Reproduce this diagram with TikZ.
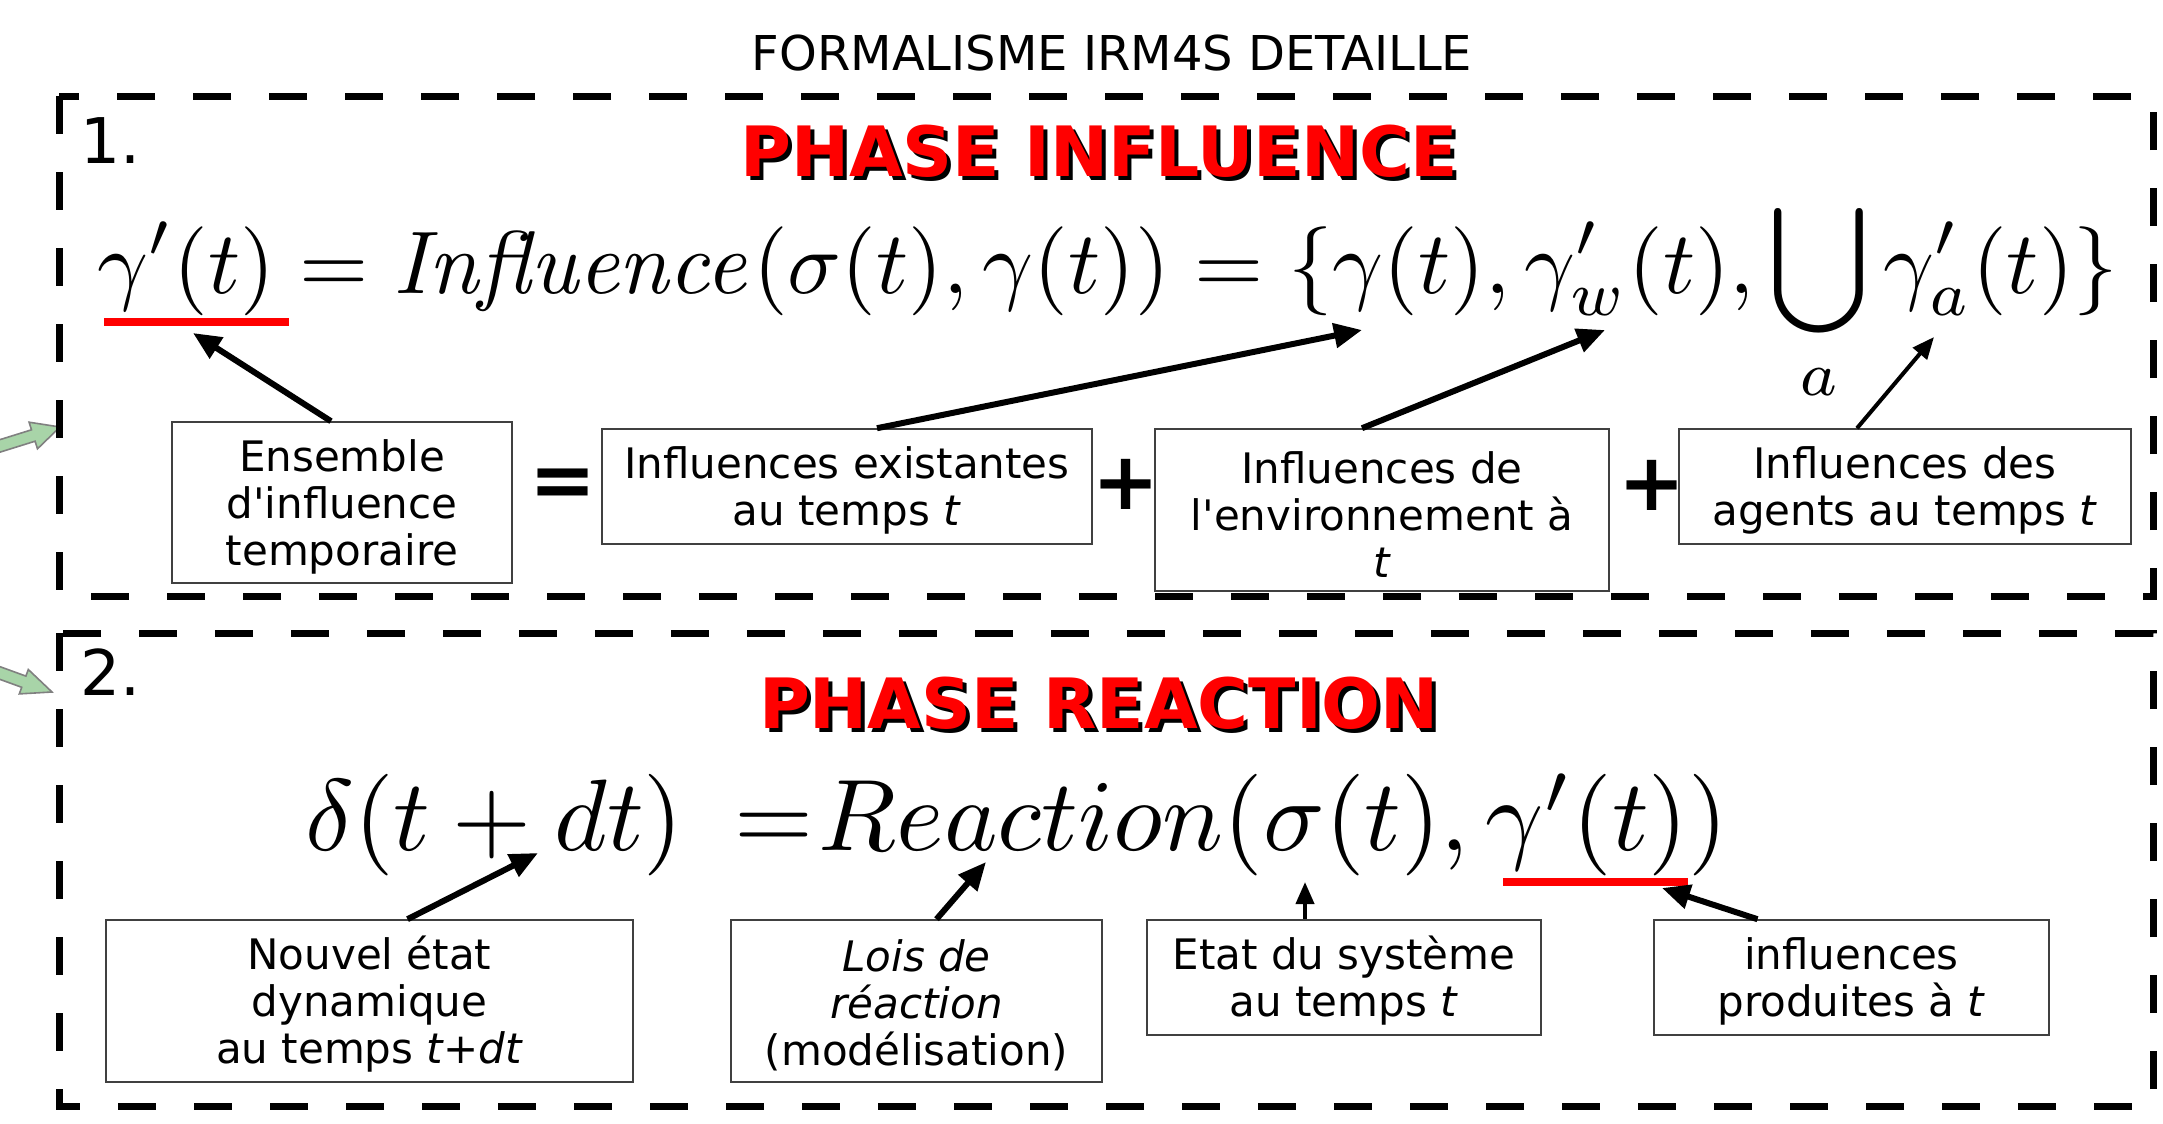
\documentclass[tikz,border=0pt]{standalone}
\usepackage[no-math]{fontspec}
\setmainfont{DejaVu Sans}
\usetikzlibrary{arrows.meta}
\newcommand{\toplift}{\rule{0pt}{20pt}}
\begin{document}
\begin{tikzpicture}[x=0.5pt,y=-0.5pt,
  phasebox/.style={draw=black, line width=3.5pt, dash pattern=on 19pt off 19pt},
  labelbox/.style={draw=black!75, line width=0.8pt, align=center, inner sep=0pt, font=\fontsize{21}{23.5}\selectfont},
  ptr/.style={line width=3pt, -{Triangle[length=14pt,width=12pt]}},
  thinptr/.style={line width=2pt, -{Triangle[length=11pt,width=9pt]}},
  phasetitle/.style={font=\fontsize{34.7}{40}\selectfont\bfseries, inner sep=0pt},
  optext/.style={font=\fontsize{40}{40}\selectfont\bfseries, inner sep=0pt},
  numtext/.style={font=\fontsize{31.5}{34}\selectfont, inner sep=0pt, anchor=base west},
  mathline/.style={anchor=base west, inner sep=0pt, font=\normalsize, transform shape},
  redline/.style={draw=red, line width=4pt},
  greenarrow/.style={fill={rgb,255:red,168;green,212;blue,168}, draw=gray, line width=0.8pt, line join=miter}
]
\useasboundingbox (0,0) rectangle (2163,1124);

% title
\node[font=\fontsize{24}{28}\selectfont, anchor=base, inner sep=0pt] (title) at (1112,70) {FORMALISME IRM4S DETAILLE};

% green arrows entering from the left
\draw[greenarrow] (-8.2,454.7) -- (35.1,441.2) -- (37.5,448.8) -- (60,427) -- (29.1,422.2) -- (31.5,429.8) -- (-11.8,443.3) -- cycle;
\draw[greenarrow] (-12.1,675) -- (21.7,687.3) -- (19.3,693.9) -- (52,692) -- (28.3,669.5) -- (25.9,676.1) -- (-7.9,663.8) -- cycle;

% ---------------- phase 1 ----------------
\draw[phasebox] (59,96) rectangle (2153,596);
\node[numtext] (n1) at (80,163) {1.};
\node[phasetitle, text=black] (t1s) at (1103,155) {PHASE INFLUENCE};
\node[phasetitle, text=red] (t1) at (1099,151.5) {PHASE INFLUENCE};

\node[mathline, scale=4.45] (eq1) at (96,293)
  {$\displaystyle \gamma'(t) = \mathit{Influence}(\sigma(t),\gamma(t)) = \{\gamma(t),\gamma'_w(t),\bigcup_a \gamma'_a(t)\}$};
\draw[redline] (104,322) -- (289,322);

\coordinate (p1) at (193,333);
\coordinate (p2) at (1362,330);
\coordinate (p3) at (1605,330);
\coordinate (p4) at (1934,337);

\node[labelbox, minimum width=170pt, minimum height=80.5pt] (ens) at (342,502.5) {\toplift Ensemble\\d\textquotesingle influence\\temporaire};
\node[labelbox, minimum width=245pt, minimum height=57.5pt] (exi) at (847,486.5) {\toplift Influences existantes\\au temps \textit{t}};
\node[labelbox, minimum width=227pt, minimum height=81pt] (env) at (1382,510) {\toplift Influences de\\l\textquotesingle environnement à\\\textit{t}};
\node[labelbox, minimum width=226pt, minimum height=57.5pt] (agt) at (1905,486.5) {\toplift Influences des\\agents au temps \textit{t}};

\node[optext] (eqs) at (563,488) {=};
\node[optext] (plus1) at (1126,484) {+};
\node[optext] (plus2) at (1652,485) {+};

\draw[ptr] ([xshift=-5.5pt]ens.north) -- (p1);
\draw[ptr] ([xshift=15pt]exi.north) -- (p2);
\draw[ptr] ([xshift=-10pt]env.north) -- (p3);
\draw[thinptr] ([xshift=-24pt]agt.north) -- (p4);

% ---------------- phase 2 ----------------
\draw[phasebox] (59,633) rectangle (2153,1106);
\node[numtext] (n2) at (80,695) {2.};
\node[phasetitle, text=black] (t2s) at (1103,707) {PHASE REACTION};
\node[phasetitle, text=red] (t2) at (1099,703.5) {PHASE REACTION};

\node[mathline, scale=5.08] (eq2) at (303,850)
  {$\delta(t + dt)\mskip 9mu{=}\mskip 1mu Reaction(\sigma(t),\gamma'(t))$};
\draw[redline] (1503,882) -- (1688,882);

\coordinate (q1) at (538,853);
\coordinate (q2) at (986,862);
\coordinate (q3) at (1305,882);
\coordinate (q4) at (1662,888);

\node[labelbox, minimum width=263.5pt, minimum height=81pt] (nouv) at (369.5,1001) {\toplift Nouvel état\\dynamique\\au temps \textit{t+dt}};
\node[labelbox, minimum width=185.5pt, minimum height=81pt] (lois) at (916.5,1001) {\toplift\textit{Lois de}\\\textit{réaction}\\(modélisation)};
\node[labelbox, minimum width=197pt, minimum height=57.5pt] (etat) at (1344,977.5) {\toplift Etat du système\\au temps \textit{t}};
\node[labelbox, minimum width=197.5pt, minimum height=57.5pt] (infl) at (1851.5,977.5) {\toplift influences\\produites à \textit{t}};

\draw[ptr] ([xshift=19pt]nouv.north) -- (q1);
\draw[ptr] ([xshift=10pt]lois.north) -- (q2);
\draw[thinptr] ([xshift=-19.5pt]etat.north) -- (q3);
\draw[ptr] ([xshift=-47pt]infl.north) -- (q4);
\end{tikzpicture}
\end{document}
